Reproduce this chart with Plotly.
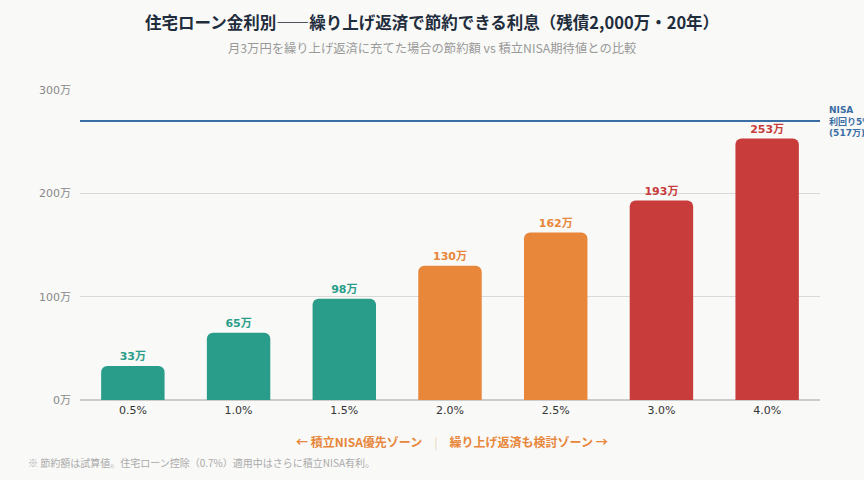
import plotly.graph_objects as go

rates = ["0.5%", "1.0%", "1.5%", "2.0%", "2.5%", "3.0%", "4.0%"]
savings = [33, 65, 98, 130, 162, 193, 253]
zones = ["nisa", "nisa", "nisa", "mid", "mid", "repay", "repay"]
nisa_line = 270
y_ticks = [0, 100, 200, 300]

zone_colors = {"nisa": "#2a9d8a", "mid": "#e8863a", "repay": "#c83c3c"}
bar_colors = [zone_colors[z] for z in zones]
jp_font = "Noto Sans CJK JP, Noto Sans, sans-serif"
tick_font = "DejaVu Sans, Noto Sans CJK JP, sans-serif"

fig = go.Figure()
fig.add_trace(go.Bar(
    x=rates, y=savings,
    marker=dict(color=bar_colors, line=dict(width=0)),
    width=0.6,
    text=[f"<b>{v}万</b>" for v in savings],
    textposition="outside",
    textfont=dict(color=bar_colors, size=11, family=tick_font),
    cliponaxis=False,
    hoverinfo="skip",
))

fig.add_hline(y=nisa_line, line=dict(color="#3a6ea5", width=2))
fig.add_annotation(
    xref="paper", yref="y", x=1.01, y=nisa_line,
    text="<b>NISA<br>利回り5%<br>(517万)</b>",
    showarrow=False, xanchor="left", yanchor="middle", align="left",
    font=dict(size=9, color="#3a6ea5", family=tick_font),
)

# titles centred on the full page width (432px)
fig.add_annotation(
    xref="paper", yref="paper", x=0.4757, y=1.219,
    text="<b>住宅ローン金利別――繰り上げ返済で節約できる利息（残債2,000万・20年）</b>",
    showarrow=False, xanchor="center", yanchor="middle",
    font=dict(size=16.5, color="#1f2d3d", family=jp_font),
)
fig.add_annotation(
    xref="paper", yref="paper", x=0.4757, y=1.135,
    text="月3万円を繰り上げ返済に充てた場合の節約額 vs 積立NISA期待値との比較",
    showarrow=False, xanchor="center", yanchor="middle",
    font=dict(size=12.3, color="#999999", family=jp_font),
)
fig.add_annotation(
    xref="paper", yref="paper", x=0.503, y=-0.135,
    text="<b>← 積立NISA優先ゾーン</b>　<span style='color:#ead2bd'>|</span>　<b>繰り上げ返済も検討ゾーン →</b>",
    showarrow=False, xanchor="center", yanchor="middle",
    font=dict(size=12, color="#e8863a", family=jp_font),
)
fig.add_annotation(
    xref="paper", yref="paper", x=-0.073, y=-0.2,
    text="※ 節約額は試算値。住宅ローン控除（0.7%）適用中はさらに積立NISA有利。",
    showarrow=False, xanchor="left", yanchor="middle",
    font=dict(size=10, color="#aaaaaa", family=jp_font),
)

fig.update_layout(
    width=864, height=480,
    margin=dict(l=80, r=44, t=90, b=80),
    paper_bgcolor="#f9f9f7", plot_bgcolor="#f9f9f7",
    showlegend=False,
    barcornerradius=6,
    font=dict(family=tick_font),
    xaxis=dict(
        showgrid=False, showline=True, linecolor="#cccccc", linewidth=1,
        tickfont=dict(size=11, color="#333333"), ticks="",
    ),
    yaxis=dict(
        range=[0, 300], tickvals=y_ticks,
        ticktext=[f"{v}万" for v in y_ticks],
        showgrid=True, gridcolor="#d9d9d9", gridwidth=1,
        zeroline=True, zerolinecolor="#cccccc",
        tickfont=dict(size=11, color="#888888"), ticks="",
        ticklabelstandoff=8,
    ),
)

fig.write_html("out.html", config={"displayModeBar": False},
               post_script="document.body.style.margin='0';")
